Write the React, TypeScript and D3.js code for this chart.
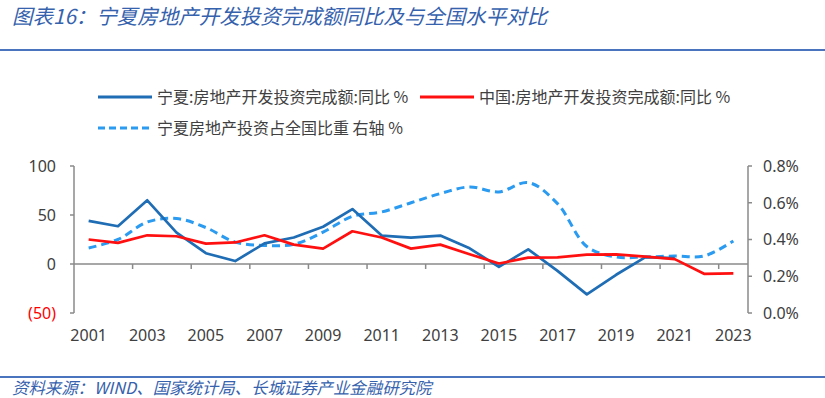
import * as d3 from "d3";

const years = [
  "2001", "2002", "2003", "2004", "2005", "2006", "2007", "2008", "2009", "2010", "2011", "2012",
  "2013", "2014", "2015", "2016", "2017", "2018", "2019", "2020", "2021", "2022", "2023",
];
// 宁夏:房地产开发投资完成额:同比 %
const ningxiaYoy: (number | null)[] = [
  44, 38.5, 65, 32, 11, 3, 21, 27, 38, 56, 29, 27,
  29, 16, -3, 15, -7, -31, -11, 7, 6, null, null,
];
// 中国:房地产开发投资完成额:同比 %
const chinaYoy = [
  25, 21.5, 29.3, 28.3, 20.8, 22, 29.3, 19.8, 15.7, 33.4, 27, 15.7,
  19.8, 10, 0.5, 6.5, 6.8, 9.5, 9.9, 7.5, 5, -10, -9.6,
];
// 宁夏房地产投资占全国比重 右轴 %
const shareOfNation = [
  0.354, 0.4, 0.495, 0.514, 0.465, 0.386, 0.368, 0.374, 0.44, 0.526, 0.55, 0.6,
  0.65, 0.686, 0.659, 0.71, 0.595, 0.362, 0.305, 0.305, 0.31, 0.31, 0.392,
];
const leftTicks = [-50, 0, 50, 100];
const rightTicks = [0, 0.2, 0.4, 0.6, 0.8];

const title = "图表16：宁夏房地产开发投资完成额同比及与全国水平对比";
const source = "资料来源：WIND、国家统计局、长城证券产业金融研究院";
const seriesNames = [
  "宁夏:房地产开发投资完成额:同比 %",
  "中国:房地产开发投资完成额:同比 %",
  "宁夏房地产投资占全国比重 右轴 %",
];

const W = 825;
const H = 398;
const plot = { left: 74, right: 748, top: 166, bottom: 313 };

const BLUE = "#1f6db4";
const RED = "#ff1010";
const LIGHT = "#2a9bf0";
const AXIS = "#8a8a8a";
const TEXT = "#404040";
const HEAD = "#3561ad";
const CJK = "'Noto Sans CJK SC', 'Noto Sans', sans-serif";
const NUM = "'Noto Sans', 'Liberation Sans', sans-serif";

export default function App() {
  const x = d3.scaleBand().domain(years).range([plot.left, plot.right]).padding(0);
  const cx = (i: number) => (x(years[i]) as number) + x.bandwidth() / 2;
  const yL = d3.scaleLinear().domain([-50, 100]).range([plot.bottom, plot.top]);
  const yR = d3.scaleLinear().domain([0, 0.8]).range([plot.bottom, plot.top]);

  const lineL = d3
    .line<number | null>()
    .defined((d) => d !== null)
    .x((_, i) => cx(i))
    .y((d) => yL(d as number));
  const lineR = d3
    .line<number>()
    .x((_, i) => cx(i))
    .y((d) => yR(d))
    .curve(d3.curveCatmullRom.alpha(0.5));

  const zeroY = yL(0);
  // tick marks every 2 categories on the category axis
  const xTickIdx = d3.range(2, years.length, 2);

  return (
    <svg
      width={W}
      height={H}
      style={{ position: "absolute", left: 0, top: 0, background: "#fff" }}
    >
      <text x={12} y={24} fontSize={20.5} fontStyle="italic" fill={HEAD} fontFamily={CJK}>
        {title}
      </text>
      <line x1={0} x2={W} y1={50} y2={50} stroke="#4a74bd" strokeWidth={2} />

      {/* legend */}
      <g fontFamily={CJK} fontSize={16} fill={TEXT}>
        <line x1={98} x2={152} y1={97} y2={97} stroke={BLUE} strokeWidth={3} />
        <text x={157} y={97} dy="0.35em">{seriesNames[0]}</text>
        <line x1={420} x2={474} y1={97} y2={97} stroke={RED} strokeWidth={3} />
        <text x={479} y={97} dy="0.35em">{seriesNames[1]}</text>
        <line x1={98} x2={152} y1={128} y2={128} stroke={LIGHT} strokeWidth={3} strokeDasharray="7,4" />
        <text x={157} y={128} dy="0.35em">{seriesNames[2]}</text>
      </g>

      {/* axes */}
      <g stroke={AXIS} strokeWidth={1.5}>
        <line x1={plot.left} x2={plot.left} y1={plot.top} y2={plot.bottom} />
        {leftTicks.map((t) => (
          <line key={t} x1={plot.left - 4} x2={plot.left} y1={yL(t)} y2={yL(t)} />
        ))}
        <line x1={plot.right} x2={plot.right} y1={plot.top} y2={plot.bottom} />
        {rightTicks.map((t) => (
          <line key={t} x1={plot.right} x2={plot.right + 4} y1={yR(t)} y2={yR(t)} />
        ))}
        <line x1={plot.left} x2={plot.right} y1={zeroY} y2={zeroY} />
        {xTickIdx.map((i) => {
          const bx = x(years[i]) as number;
          return <line key={i} x1={bx} x2={bx} y1={zeroY} y2={zeroY + 5} />;
        })}
      </g>

      <g fontFamily={NUM} fontSize={16}>
        {leftTicks.map((t) => (
          <text
            key={t}
            x={56}
            y={yL(t)}
            dy="0.36em"
            textAnchor="end"
            fill={t < 0 ? "#ff0000" : TEXT}
          >
            {t < 0 ? `(${Math.abs(t)})` : t}
          </text>
        ))}
        {rightTicks.map((t) => (
          <text key={t} x={763} y={yR(t)} dy="0.36em" fill={TEXT}>
            {d3.format(".1%")(t / 100)}
          </text>
        ))}
        {years.map((yr, i) =>
          i % 2 === 0 ? (
            <text key={yr} x={cx(i)} y={335} dy="0.36em" textAnchor="middle" fill={TEXT}>
              {yr}
            </text>
          ) : null
        )}
      </g>

      {/* series */}
      <path
        d={lineR(shareOfNation) || ""}
        fill="none"
        stroke={LIGHT}
        strokeWidth={3}
        strokeDasharray="8,5"
      />
      <path d={lineL(ningxiaYoy) || ""} fill="none" stroke={BLUE} strokeWidth={2.7} strokeLinejoin="round" />
      <path d={lineL(chinaYoy) || ""} fill="none" stroke={RED} strokeWidth={2.7} strokeLinejoin="round" />

      <line x1={0} x2={W} y1={377} y2={377} stroke="#4a74bd" strokeWidth={2} />
      <text x={12} y={388} dy="0.36em" fontSize={16.4} fontStyle="italic" fill={HEAD} fontFamily={CJK}>
        {source}
      </text>
    </svg>
  );
}
